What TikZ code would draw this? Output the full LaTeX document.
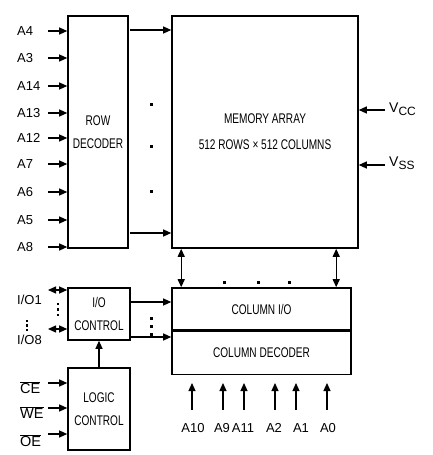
\documentclass[tikz,border=0pt]{standalone}
\usepackage{fontspec}
\setmainfont{Liberation Sans}
\newfontfamily\boxfont[FakeStretch=0.72]{Liberation Sans}
\usetikzlibrary{arrows.meta,positioning,calc}

\begin{document}
\begin{tikzpicture}[
  x=1pt, y=-1pt,
  box/.style={draw, line width=1.6pt, inner sep=0pt, align=center,
              font=\boxfont\fontsize{14}{23}\selectfont},
  pin/.style={anchor=west, inner sep=0pt, font=\fontsize{13}{13}\selectfont},
  arr/.style={-{Triangle[length=8pt,width=7pt]}, line width=1.2pt},
  biarr/.style={{Triangle[length=8pt,width=7pt]}-{Triangle[length=8pt,width=7pt]},
                line width=1.2pt},
  dot/.style={fill, inner sep=0pt, minimum size=3pt},
]
\useasboundingbox (0,0) rectangle (432,455);

\node[box, minimum width=60pt, minimum height=232pt] (rowdec) at (98,132) {ROW\\DECODER};
\node[box, minimum width=186pt, minimum height=232pt,
      font=\boxfont\fontsize{14}{26}\selectfont] (memarray) at (265,132)
      {MEMORY ARRAY\\512 ROWS × 512 COLUMNS};
\node[box, minimum width=179pt, minimum height=42pt] (colio) at (261.5,309) {COLUMN I/O};
\node[box, minimum width=179pt, minimum height=43pt, below=0pt of colio] (coldec) {COLUMN DECODER};
\draw[line width=3pt] (colio.south west) -- (colio.south east);
\node[box, minimum width=62pt, minimum height=52pt] (ioctrl) at (99,314) {I/O\\CONTROL};
\node[box, minimum width=62pt, minimum height=82pt] (logic) at (99,409) {LOGIC\\CONTROL};

\foreach \name/\y in {A4/31, A3/58, A14/86, A13/113, A12/138, A7/164, A6/192, A5/220, A8/247} {
  \node[pin] (l\name) at (17,\y) {\name};
  \coordinate (s\name) at (48,\y);
  \draw[arr] (s\name) -- (s\name -| rowdec.west);
}

\coordinate (r1) at (130,30);
\coordinate (r2) at (130,233);
\draw[arr] (r1) -- (r1 -| memarray.west);
\draw[arr] (r2) -- (r2 -| memarray.west);
\foreach \i/\y in {1/104, 2/146, 3/191}
  \node[dot] (rd\i) at (151,\y) {};

\node[pin, font=\fontsize{14}{14}\selectfont] (vcc) at (389,109)
  {V\raisebox{-3pt}{\fontsize{12}{12}\selectfont CC}};
\node[pin, font=\fontsize{14}{14}\selectfont] (vss) at (389,163)
  {V\raisebox{-3pt}{\fontsize{12}{12}\selectfont SS}};
\coordinate (svcc) at (385,110);
\coordinate (svss) at (385,165);
\draw[arr] (svcc) -- (svcc -| memarray.east);
\draw[arr] (svss) -- (svss -| memarray.east);

\draw[biarr] ($(memarray.south west)+(10,0)$) -- ($(colio.north west)+(10,0)$);
\draw[biarr] ($(memarray.south west)+(165,0)$) -- ($(colio.north west)+(165,0)$);
\foreach \i/\x in {1/224, 2/258, 3/289}
  \node[dot] (cd\i) at (\x,282) {};

\foreach \name/\x/\lx in {A10/192/193, A9/223/222, A11/244/243, A2/275/274, A1/296/301, A0/327/328} {
  \node[pin, anchor=center] (l\name) at (\lx,428) {\name};
  \coordinate (s\name) at (\x,410);
  \coordinate (e\name) at (\x,383);
  \draw[arr] (s\name) -- (e\name);
}

\coordinate (c1) at (131,302);
\coordinate (c2) at (131,337);
\draw[arr] (c1) -- (c1 -| colio.west);
\draw[arr] (c2) -- (c2 -| coldec.west);
\foreach \i/\y in {1/318, 2/326, 3/334}
  \node[dot] (id\i) at (151,\y) {};

\node[pin] (lio1) at (17,300) {I/O1};
\node[pin] (lio8) at (17,340) {I/O8};
\coordinate (sio1) at (48,290);
\coordinate (sio8) at (48,329);
\draw[biarr] (sio1) -- (sio1 -| ioctrl.west);
\draw[biarr] (sio8) -- (sio8 -| ioctrl.west);
\foreach \i/\y in {1/304, 2/309.5, 3/315}
  \node[dot, minimum size=2.5pt] (pd\i) at (58,\y) {};
\foreach \i/\y in {1/321, 2/325.5, 3/330}
  \node[dot, minimum size=2.5pt] (ld\i) at (27,\y) {};

\draw[arr] (logic.north) -- (ioctrl.south);

\foreach \name/\y/\ly in {CE/383/388, WE/408/413, OE/434/441} {
  \node[pin, font=\fontsize{14.5}{14.5}\selectfont] (l\name) at (20,\ly)
    {$\overline{\mbox{\name}}$};
  \coordinate (s\name) at (48,\y);
  \draw[arr] (s\name) -- (s\name -| logic.west);
}
\end{tikzpicture}
\end{document}
